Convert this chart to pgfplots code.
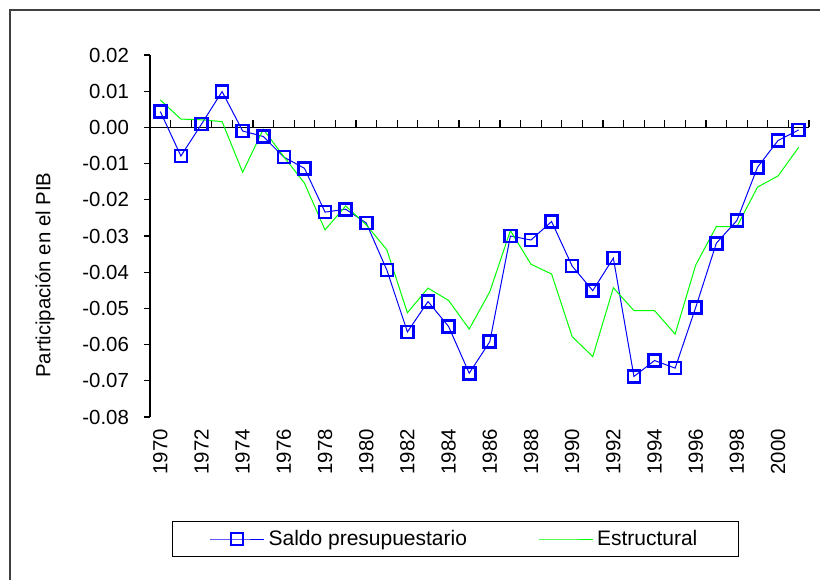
\documentclass[border=0pt]{standalone}
\usepackage{fontspec}
\setmainfont{Liberation Sans}
\usepackage{pgfplots}
\usepackage{pgfplotstable}
\pgfplotsset{compat=1.18}
\pgfplotstableread{
year saldo estr
1970 0.0044 0.0076
1971 -0.0079 0.0023
1972 0.0009 0.0021
1973 0.0099 0.0016
1974 -0.0010 -0.0124
1975 -0.0025 -0.0005
1976 -0.0082 -0.0081
1977 -0.0113 -0.0154
1978 -0.0234 -0.0283
1979 -0.0226 -0.0217
1980 -0.0264 -0.0269
1981 -0.0394 -0.0338
1982 -0.0565 -0.0512
1983 -0.0481 -0.0444
1984 -0.0550 -0.0478
1985 -0.0679 -0.0557
1986 -0.0592 -0.0454
1987 -0.0300 -0.0285
1988 -0.0311 -0.0378
1989 -0.0260 -0.0405
1990 -0.0383 -0.0578
1991 -0.0451 -0.0633
1992 -0.0361 -0.0443
1993 -0.0688 -0.0506
1994 -0.0644 -0.0506
1995 -0.0665 -0.0571
1996 -0.0497 -0.0380
1997 -0.0320 -0.0274
1998 -0.0257 -0.0274
1999 -0.0110 -0.0165
2000 -0.0036 -0.0134
2001 -0.0007 -0.0055
}\datatable
\definecolor{xlblue}{RGB}{0,0,255}
\definecolor{xlgreen}{RGB}{0,255,0}
\begin{document}
\begin{tikzpicture}
\useasboundingbox (0pt,0pt) rectangle (410pt,-289.5pt);
\fill[white] (0pt,0pt) rectangle (410pt,-289.5pt);
\draw[line width=0.7pt, black!75] (5pt,-300pt) -- (5pt,-5pt) -- (420pt,-5pt);
\begin{axis}[
  at={(75pt,-208.5pt)}, anchor=south west,
  scale only axis, width=329.5pt, height=181pt,
  xmin=1969.5, xmax=2001.5, ymin=-0.08, ymax=0.02,
  scaled y ticks=false,
  axis y line*=left, axis x line*=bottom,
  x axis line style={draw=none},
  y axis line style={line width=0.7pt},
  xtick={1970,1972,...,2000},
  xticklabels={1970,1972,1974,1976,1978,1980,1982,1984,1986,1988,1990,1992,1994,1996,1998,2000},
  xtick style={draw=none},
  xticklabel style={yshift=-2.5pt, rotate=90, anchor=east, font=\fontsize{10.2}{12}\selectfont},
  ytick={-0.08,-0.07,-0.06,-0.05,-0.04,-0.03,-0.02,-0.01,0,0.01,0.02},
  yticklabels={-0.08,-0.07,-0.06,-0.05,-0.04,-0.03,-0.02,-0.01,0.00,0.01,0.02},
  ytick align=outside, major tick length=3pt,
  ytick style={line width=0.6pt, black},
  yticklabel style={font=\fontsize{10.2}{12}\selectfont, xshift=-4pt},
  ylabel={Participación en el PIB},
  ylabel style={at={(axis description cs:-0.1593,0.392)}, anchor=center, font=\fontsize{10.2}{12}\selectfont},
  clip=false,
  legend columns=2,
  legend style={at={(axis description cs:0.4636,-0.337)}, anchor=center,
    draw=black, line width=0.6pt, inner xsep=18.5pt, inner ysep=2pt,
    font=\fontsize{10.5}{12}\selectfont,
    /tikz/every even column/.append style={column sep=33.5pt}},
  legend image code/.code={\draw[mark repeat=2,mark phase=2,#1] plot coordinates {(0pt,0pt) (13.5pt,0pt) (27pt,0pt)};},
]
\addplot[black, line width=0.7pt, forget plot] coordinates {(1969.5,0) (2001.5,0)};
\pgfplotsinvokeforeach{1970.5,1971.5,...,2001.5}{
  \draw[black, line width=0.6pt] (axis cs:#1,0) -- ++(0pt,3.5pt);
}
\addplot[xlblue, line width=0.5pt, mark=square, mark size=3pt, mark options={line width=1.3pt, draw=xlblue, fill=none}]
  table[x=year, y=saldo] {\datatable};
\addlegendentry{Saldo presupuestario}
\addplot[xlgreen, line width=0.5pt, no marks] table[x=year, y=estr] {\datatable};
\addlegendentry{Estructural}
\end{axis}
\end{tikzpicture}
\end{document}
